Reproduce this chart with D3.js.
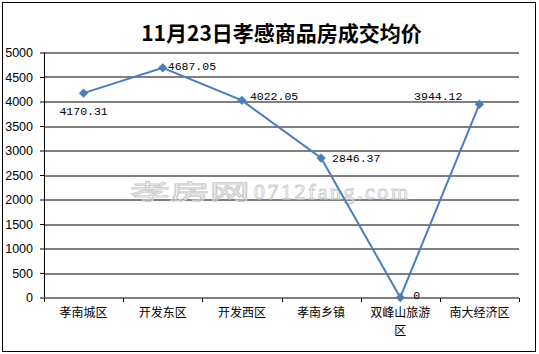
<!DOCTYPE html>
<html>
<head>
<meta charset="utf-8">
<script src="https://cdn.jsdelivr.net/npm/d3@7"></script>
<style>
  body { margin: 0; background: #fff; }
  svg { display: block; }
  .axis text { font-family: "Liberation Sans", Arial, sans-serif; font-size: 12.5px; fill: #000; }
  .axis--x text { font-family: "Noto Sans CJK SC", sans-serif; font-size: 12px; }
  .label { font-family: "Liberation Mono", monospace; font-size: 11.5px; fill: #000; }
</style>
</head>
<body>
<div id="chart"></div>
<script>
var categories = ["孝南城区", "开发东区", "开发西区", "孝南乡镇", "双峰山旅游区", "南大经济区"];
var prices = [4170.31, 4687.05, 4022.05, 2846.37, 0, 3944.12];
var labels = ["4170.31", "4687.05", "4022.05", "2846.37", "0", "3944.12"];
var yTicks = [0, 500, 1000, 1500, 2000, 2500, 3000, 3500, 4000, 4500, 5000];
// where each data label sits relative to its point
var labelPos = [[0, 18, "middle"], [5, -2, "start"], [8, -4, "start"], [11, 0, "start"], [13, -3, "start"], [-17, -8, "end"]];

var W = 539, H = 354;
var margin = {top: 52.5, right: 20, bottom: 56.5, left: 44};
var width = 519 - margin.left,
    height = 297.5 - margin.top;

var svg = d3.select("#chart").append("svg")
    .attr("width", W)
    .attr("height", H);

// outer frame
svg.append("rect")
    .attr("x", 2.5).attr("y", 2.5)
    .attr("width", 533).attr("height", 349)
    .attr("fill", "#fff")
    .attr("stroke", "#000");

svg.append("text")
    .attr("x", margin.left + width / 2)
    .attr("y", 41)
    .attr("text-anchor", "middle")
    .style("font-family", "'Noto Sans CJK SC', sans-serif")
    .style("font-weight", "bold")
    .style("font-size", "21px")
    .text("11月23日孝感商品房成交均价");

var g = svg.append("g")
    .attr("transform", "translate(" + margin.left + "," + margin.top + ")");

var x = d3.scaleBand()
    .domain(categories)
    .range([0, width]);

var y = d3.scaleLinear()
    .domain([0, 5000])
    .range([height, 0]);

// gridlines
g.append("g")
    .selectAll("line")
    .data(yTicks.slice(1))
    .enter().append("line")
    .attr("x1", 0).attr("x2", width)
    .attr("y1", function(d) { return Math.round(y(d)) + 0.5; })
    .attr("y2", function(d) { return Math.round(y(d)) + 0.5; })
    .attr("stroke", "#000");

// watermark
var wm = g.append("g")
    .attr("transform", "translate(86,146)")
    .attr("fill", "none")
    .attr("stroke", "#cfcfcf")
    .attr("stroke-width", 1);
wm.append("text")
    .attr("transform", "scale(1.9,1)")
    .style("font-family", "'Noto Sans CJK SC', sans-serif")
    .style("font-size", "21px")
    .text("孝房网");
wm.append("text")
    .attr("x", 124)
    .style("font-family", "'Liberation Serif', serif")
    .style("font-size", "22px")
    .attr("textLength", 154)
    .text("0712fang.com");

var yAxis = g.append("g")
    .attr("class", "axis axis--y")
    .call(d3.axisLeft(y).tickValues(yTicks).tickFormat(d3.format("d")).tickSize(4).tickPadding(7));
yAxis.select(".domain").attr("d", "M0.5," + height + "V0");

var xAxis = g.append("g")
    .attr("class", "axis axis--x")
    .attr("transform", "translate(0," + (Math.round(height) + 0.5) + ")")
    .call(d3.axisBottom(x).tickSize(0).tickPadding(10));
xAxis.select(".domain").attr("d", "M0,0H" + width);
// boundary ticks between categories
xAxis.selectAll(".bound")
    .data(d3.range(categories.length + 1))
    .enter().append("line")
    .attr("class", "bound")
    .attr("x1", function(i) { return Math.round(i * x.step()) + 0.5; })
    .attr("x2", function(i) { return Math.round(i * x.step()) + 0.5; })
    .attr("y1", 0).attr("y2", 4)
    .attr("stroke", "#000");

// wrap long category name
xAxis.selectAll(".tick text").each(function(d) {
    if (d.length > 5) {
        var t = d3.select(this);
        t.text(null);
        t.append("tspan").attr("x", 0).attr("dy", "0.71em").text(d.slice(0, 5));
        t.append("tspan").attr("x", 0).attr("dy", "1.55em").text(d.slice(5));
        t.attr("dy", null);
    }
});

var line = d3.line()
    .x(function(d, i) { return x(categories[i]) + x.bandwidth() / 2; })
    .y(function(d) { return y(d); });

g.append("path")
    .datum(prices)
    .attr("d", line)
    .attr("fill", "none")
    .attr("stroke", "#4a7ebb")
    .attr("stroke-width", 2);

g.selectAll(".pt")
    .data(prices)
    .enter().append("path")
    .attr("class", "pt")
    .attr("d", d3.symbol().type(d3.symbolDiamond2).size(55))
    .attr("transform", function(d, i) {
        return "translate(" + (x(categories[i]) + x.bandwidth() / 2) + "," + y(d) + ")";
    })
    .attr("fill", "#4a7ebb");

g.selectAll(".label")
    .data(prices)
    .enter().append("text")
    .attr("class", "label")
    .attr("x", function(d, i) { return x(categories[i]) + x.bandwidth() / 2 + labelPos[i][0]; })
    .attr("y", function(d, i) { return y(d) + labelPos[i][1]; })
    .attr("dy", "0.35em")
    .attr("text-anchor", function(d, i) { return labelPos[i][2]; })
    .text(function(d, i) { return labels[i]; });
</script>
</body>
</html>
